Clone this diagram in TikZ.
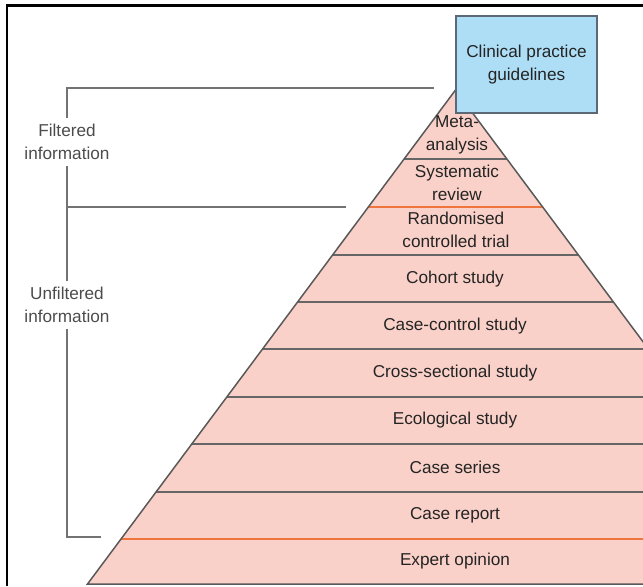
\documentclass[tikz,border=0pt]{standalone}
\usepackage{fontspec}
\setmainfont{Liberation Sans}
\definecolor{layerpink}{RGB}{250,209,201}
\definecolor{hotline}{RGB}{238,118,62}
\definecolor{guideblue}{RGB}{173,222,246}
\definecolor{guideedge}{RGB}{92,104,116}
\definecolor{inkgray}{RGB}{36,36,36}

\begin{document}
\begin{tikzpicture}[
    x=0.5pt,y=-0.5pt,
    font=\fontsize{8.6}{11.4}\selectfont,
    lvl/.style={align=center,text=inkgray,inner sep=1pt},
    side/.style={align=center,text=black!70,inner sep=3pt},
    sep/.style={draw=black!60,line width=0.7pt},
    hot/.style={draw=hotline,line width=1pt},
    edge/.style={draw=black!65,line width=0.75pt},
    bracket/.style={draw=black!55,line width=0.7pt},
    guide/.style={rectangle,draw=guideedge,fill=guideblue,line width=0.7pt,
        minimum width=70.5pt,minimum height=48.5pt,align=center,text=inkgray},
    frame/.style={draw=black,line width=1.1pt}
]
    \useasboundingbox (0,0) rectangle (643,586);
    \clip (0,0) rectangle (643,586);

    % pyramid
    \coordinate (apex) at (455.5,90);
    \coordinate (bl) at (87.5,584);
    \coordinate (br) at (823.5,584);
    \fill[layerpink] (apex) -- (bl) -- (br) -- cycle;
    \begin{scope}
        \clip (apex) -- (bl) -- (br) -- cycle;
        \draw[sep] (0,159) -- (900,159);
        \draw[sep] (0,255) -- (900,255);
        \draw[sep] (0,302) -- (900,302);
        \draw[sep] (0,349) -- (900,349);
        \draw[sep] (0,397) -- (900,397);
        \draw[sep] (0,444) -- (900,444);
        \draw[sep] (0,492) -- (900,492);
        \draw[hot] (0,207) -- (900,207);
        \draw[hot] (0,539) -- (900,539);
    \end{scope}
    \draw[edge] (apex) -- (bl) -- (br) -- cycle;

    \node[lvl] (meta) at (457,135) {Meta-\\analysis};
    \node[lvl] (sysrev) at (457,183) {Systematic\\review};
    \node[lvl] (rct) at (456,230) {Randomised\\controlled trial};
    \node[lvl] (cohort) at (455,279) {Cohort study};
    \node[lvl] (casectl) at (455,326) {Case-control study};
    \node[lvl] (cross) at (455,373) {Cross-sectional study};
    \node[lvl] (eco) at (455,420) {Ecological study};
    \node[lvl] (series) at (455,467) {Case series};
    \node[lvl] (report) at (455,515) {Case report};
    \node[lvl] (expert) at (455,561) {Expert opinion};

    \node[guide] (cpg) at (526.5,64.5) {Clinical practice\\guidelines};

    % brackets on the left
    \node[side] (filt) at (67,142) {Filtered\\information};
    \node[side] (unfilt) at (67,305) {Unfiltered\\information};
    \coordinate (ftop) at (434,88);
    \coordinate (fcorner) at (67,88);
    \coordinate (fmid) at (67,207);
    \coordinate (fmidend) at (346,207);
    \coordinate (ubot) at (67,537);
    \coordinate (uend) at (101,537);
    \draw[bracket] (ftop) -- (fcorner) -- (filt);
    \draw[bracket] (filt) -- (unfilt);
    \draw[bracket] (fmid) -- (fmidend);
    \draw[bracket] (unfilt) -- (ubot) -- (uend);

    \draw[frame] (7,586) -- (7,5.5) -- (643,5.5);
\end{tikzpicture}
\end{document}
